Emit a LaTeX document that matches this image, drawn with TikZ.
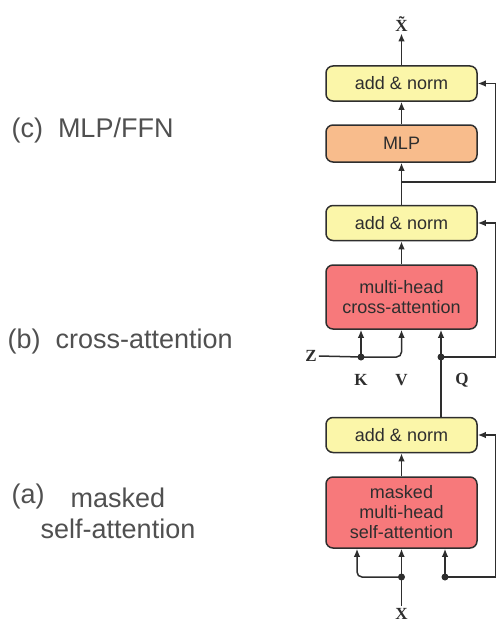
\documentclass[tikz,border=0pt]{standalone}
\usepackage{amsmath}
\usepackage[no-math]{fontspec}
\setmainfont{Liberation Sans}
\newfontfamily\symfont{Liberation Serif}
\usetikzlibrary{arrows.meta}

\definecolor{normyellow}{HTML}{FBF6A9}
\definecolor{mlporange}{HTML}{F8BC8C}
\definecolor{attnred}{HTML}{F7797B}
\definecolor{linegray}{HTML}{2E2E2E}
\definecolor{labelgray}{HTML}{505050}

\begin{document}
\begin{tikzpicture}[x=1pt, y=-1pt,
    block/.style={draw=linegray, line width=1.5pt, rounded corners=7pt,
        minimum width=151pt, align=center, text=linegray,
        font=\fontsize{18}{20}\selectfont},
    normbox/.style={block, fill=normyellow, minimum height=35pt},
    mlpbox/.style={block, fill=mlporange, minimum height=37pt},
    attnbox/.style={block, fill=attnred},
    wire/.style={draw=linegray, line width=1.5pt},
    arr/.style={wire, -{Latex[length=8pt,width=6.5pt]}},
    sym/.style={text=linegray, inner sep=2pt,
        font=\symfont\bfseries\fontsize{17}{19}\selectfont},
    caption/.style={anchor=west, text=labelgray, font=\fontsize{27}{31}\selectfont}]

    \useasboundingbox (0,0) rectangle (497,626);

    % Draw blocks
    \node[normbox] (norm3) at (401.5,83.5) {add \& norm};
    \node[mlpbox] (mlp) at (401.5,143.5) {MLP};
    \node[normbox] (norm2) at (401.5,223) {add \& norm};
    \node[attnbox, minimum height=64pt] (cross) at (401.5,297)
        {multi-head\\cross-attention};
    \node[normbox] (norm1) at (401.5,435) {add \& norm};
    \node[attnbox, minimum height=71pt] (masked) at (401.5,512.5)
        {masked\\multi-head\\self-attention};

    % Inputs and output
    \node[sym] (xt) at (401.5,24) {X̃};
    \node[sym] (x) at (401.5,614) {X};
    \node[sym] (z) at (311,356) {Z};
    \node[sym] (k) at (361,380) {K};
    \node[sym] (v) at (401.5,380) {V};
    \node[sym] (q) at (462,380) {Q};

    % Junctions
    \coordinate (mbranch) at (401.5,182);
    \coordinate (kdot) at (361,357);
    \coordinate (qdot) at (441,357);
    \coordinate (sleft) at (357,577);
    \coordinate (xdot) at (401.5,577);
    \coordinate (sdot) at (445,577);
    \coordinate (rail) at (495.5,0);

    % (c) MLP part
    \draw[arr] (norm3.north) -- (xt.south);
    \draw[arr] (mlp.north) -- (norm3.south);
    \draw[arr] (norm2.north) -- (mlp.south);
    \draw[arr] (mbranch) -| (rail |- norm3.east) -- (norm3.east);

    % (b) cross-attention part
    \draw[arr] (cross.north) -- (norm2.south);
    \draw[wire] (z.east) -- (kdot);
    \draw[arr] (kdot) -- (kdot |- cross.south);
    \draw[arr, rounded corners=5pt] (kdot) -| (cross.south);
    \draw[arr] (norm1.north -| qdot) -- (qdot |- cross.south);
    \draw[arr] (qdot) -| (rail |- norm2.east) -- (norm2.east);

    % (a) masked self-attention part
    \draw[arr] (masked.north) -- (norm1.south);
    \draw[arr] (x.north) -- (masked.south);
    \draw[arr, rounded corners=5pt] (xdot) -- (sleft) -- (sleft |- masked.south);
    \draw[arr] (sdot) -- (sdot |- masked.south);
    \draw[arr] (sdot) -| (rail |- norm1.east) -- (norm1.east);

    % Dots
    \foreach \d in {kdot,qdot,xdot,sdot}
        \fill[linegray] (\d) circle (3.5pt);

    % Captions
    \node[caption] (capc) at (8,131) {(c)\ \ MLP/FFN};
    \node[caption] (capb) at (4,342) {(b)\ \ cross-attention};
    \node[caption] (capa) at (8,497) {(a)};
    \node[text=labelgray, align=center, font=\fontsize{27}{31}\selectfont]
        (capa2) at (118,513) {masked\\self-attention};

\end{tikzpicture}
\end{document}
